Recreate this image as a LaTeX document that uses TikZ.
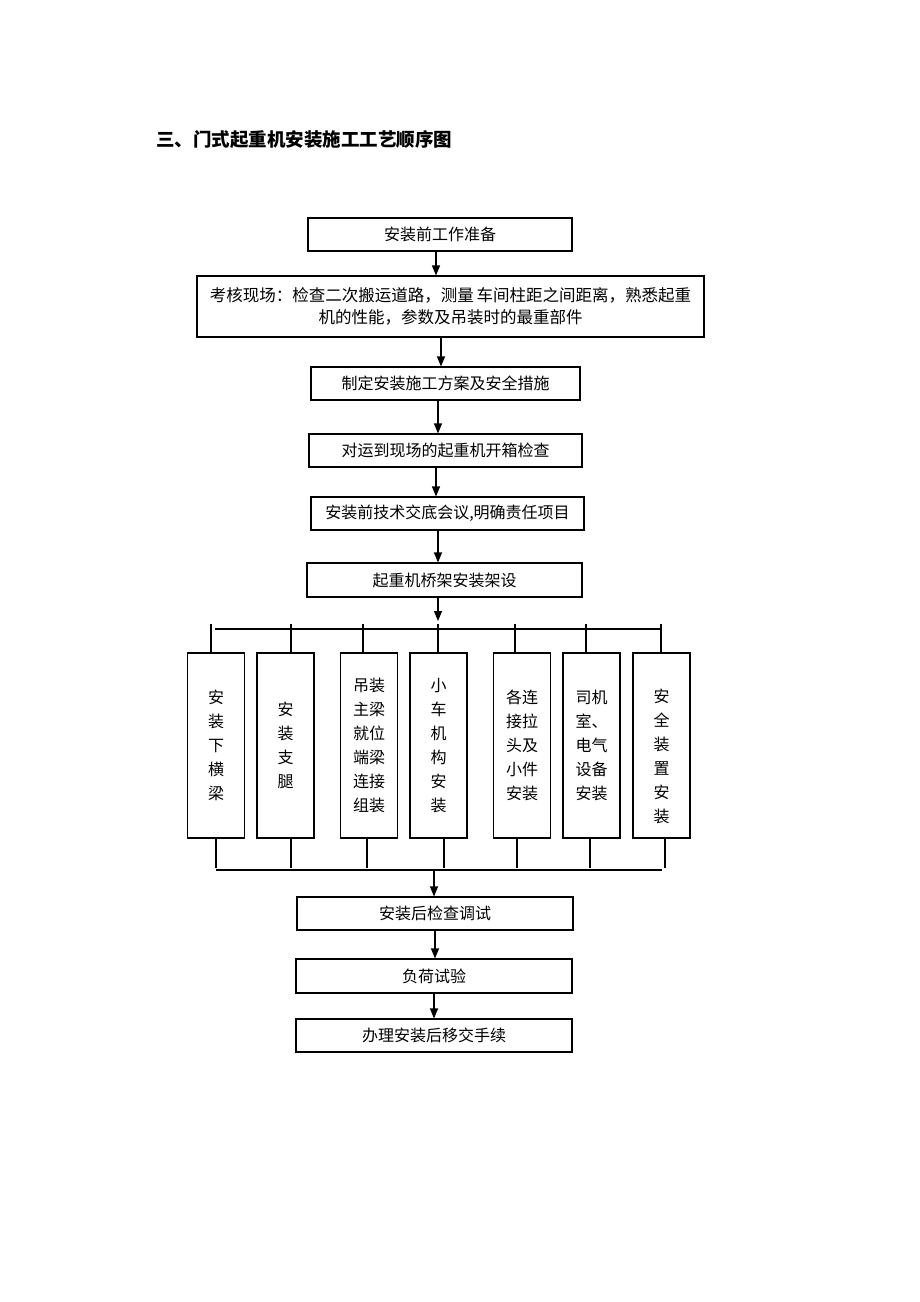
\documentclass[tikz,border=0pt]{standalone}
\usepackage{fontspec}
\setmainfont{Noto Sans CJK SC}
\usetikzlibrary{arrows.meta,calc}
\begin{document}
\begin{tikzpicture}[x=1pt,y=-1pt,
  box/.style={draw,line width=1.1pt,inner sep=0pt,align=center,font=\fontsize{16}{21}\selectfont},
  vbox/.style={draw,line width=1.1pt,inner sep=0pt,minimum width=57pt,minimum height=185pt,align=center,font=\fontsize{16}{24}\selectfont},
  vtext/.style={inner sep=0pt,align=center,font=\fontsize{16}{24}\selectfont},
  arr/.style={line width=1.1pt,-{Triangle[length=10pt,width=8pt]}},
  ln/.style={line width=1.1pt}]
\useasboundingbox[fill=white] (0,0) rectangle (920,1302);

\node[anchor=west,inner sep=0pt,font=\fontsize{18.5}{20}\selectfont\bfseries] (title) at (156,140) {三、门式起重机安装施工工艺顺序图};

\node[box,minimum width=264pt,minimum height=33pt] (b1) at (440,234.5) {安装前工作准备};
\node[box,minimum width=507pt,minimum height=61pt,font=\fontsize{16.5}{21.5}\selectfont] (b2) at (450.5,306.5) {考核现场：检查二次搬运道路，测量\,车间柱距之间距离，熟悉起重\\机的性能，参数及吊装时的最重部件};
\node[box,minimum width=269pt,minimum height=33pt] (b3) at (445.5,383.5) {制定安装施工方案及安全措施};
\node[box,minimum width=273pt,minimum height=33pt] (b4) at (445.5,450.5) {对运到现场的起重机开箱检查};
\node[box,minimum width=273pt,minimum height=33pt] (b5) at (447.5,513.5) {安装前技术交底会议,明确责任项目};
\node[box,minimum width=275pt,minimum height=34pt] (b6) at (444.5,580) {起重机桥架安装架设};

\node[vbox] (v1) at (216,745.5) {安\\装\\下\\横\\梁};
\node[vbox] (v2) at (285.5,745.5) {安\\装\\支\\腿};
\node[vbox] (v3) at (369,745.5) {吊装\\主梁\\就位\\端梁\\连接\\组装};
\node[vbox] (v4) at (438.5,745.5) {小\\车\\机\\构\\安\\装};
\node[vbox] (v5) at (522,745.5) {各连\\接拉\\头及\\小件\\安装};
\node[vbox] (v6) at (591.5,745.5) {司机\\室、\\电气\\设备\\安装};
\node[vbox] (v7) at (661.5,745.5) {};
\node[vtext] (t7) at ([yshift=-11pt]v7.center) {安\\全\\装\\置\\安\\装};

\node[box,minimum width=276pt,minimum height=33pt] (b7) at (435,913.5) {安装后检查调试};
\node[box,minimum width=276pt,minimum height=34pt] (b8) at (434,976) {负荷试验};
\node[box,minimum width=276pt,minimum height=33pt] (b9) at (434,1035.5) {办理安装后移交手续};

% main arrows
\draw[arr] (b1.south -| 436,0) -- (b2.north -| 436,0);
\draw[arr] (b2.south -| 441,0) -- (b3.north -| 441,0);
\draw[arr] (b3.south -| 438,0) -- (b4.north -| 438,0);
\draw[arr] (b4.south -| 436,0) -- (b5.north -| 436,0);
\draw[arr] (b5.south -| 438,0) -- (b6.north -| 438,0);

% top distribution bar
\coordinate (tl) at (215,629);
\coordinate (tr) at (662,629);
\coordinate (tarr) at (438,621);
\draw[arr] (b6.south -| 438,0) -- (tarr);
\draw[ln] (tl) -- (tr);
\draw[ln] (v1.north -| 211,0) -- ++(0,-28);
\draw[ln] (v2.north -| 291,0) -- ++(0,-28);
\draw[ln] (v3.north -| 363,0) -- ++(0,-28);
\draw[ln] (v4.north -| 438,0) -- ++(0,-28);
\draw[ln] (v5.north -| 515,0) -- ++(0,-28);
\draw[ln] (v6.north -| 586,0) -- ++(0,-28);
\draw[ln] (v7.north -| 661,0) -- ++(0,-28);

% bottom collecting bar
\coordinate (bl) at (216,870);
\coordinate (br) at (662,870);
\draw[ln] (bl) -- (br);
\draw[ln] (v1.south -| 216,0) -- ++(0,29);
\draw[ln] (v2.south -| 291,0) -- ++(0,29);
\draw[ln] (v3.south -| 367,0) -- ++(0,29);
\draw[ln] (v4.south -| 444,0) -- ++(0,29);
\draw[ln] (v5.south -| 517,0) -- ++(0,29);
\draw[ln] (v6.south -| 590,0) -- ++(0,29);
\draw[ln] (v7.south -| 665,0) -- ++(0,29);

\draw[arr] (bl -| 434,0) -- (b7.north -| 434,0);
\draw[arr] (b7.south -| 435,0) -- (b8.north -| 435,0);
\draw[arr] (b8.south -| 434,0) -- (b9.north -| 434,0);
\end{tikzpicture}
\end{document}
